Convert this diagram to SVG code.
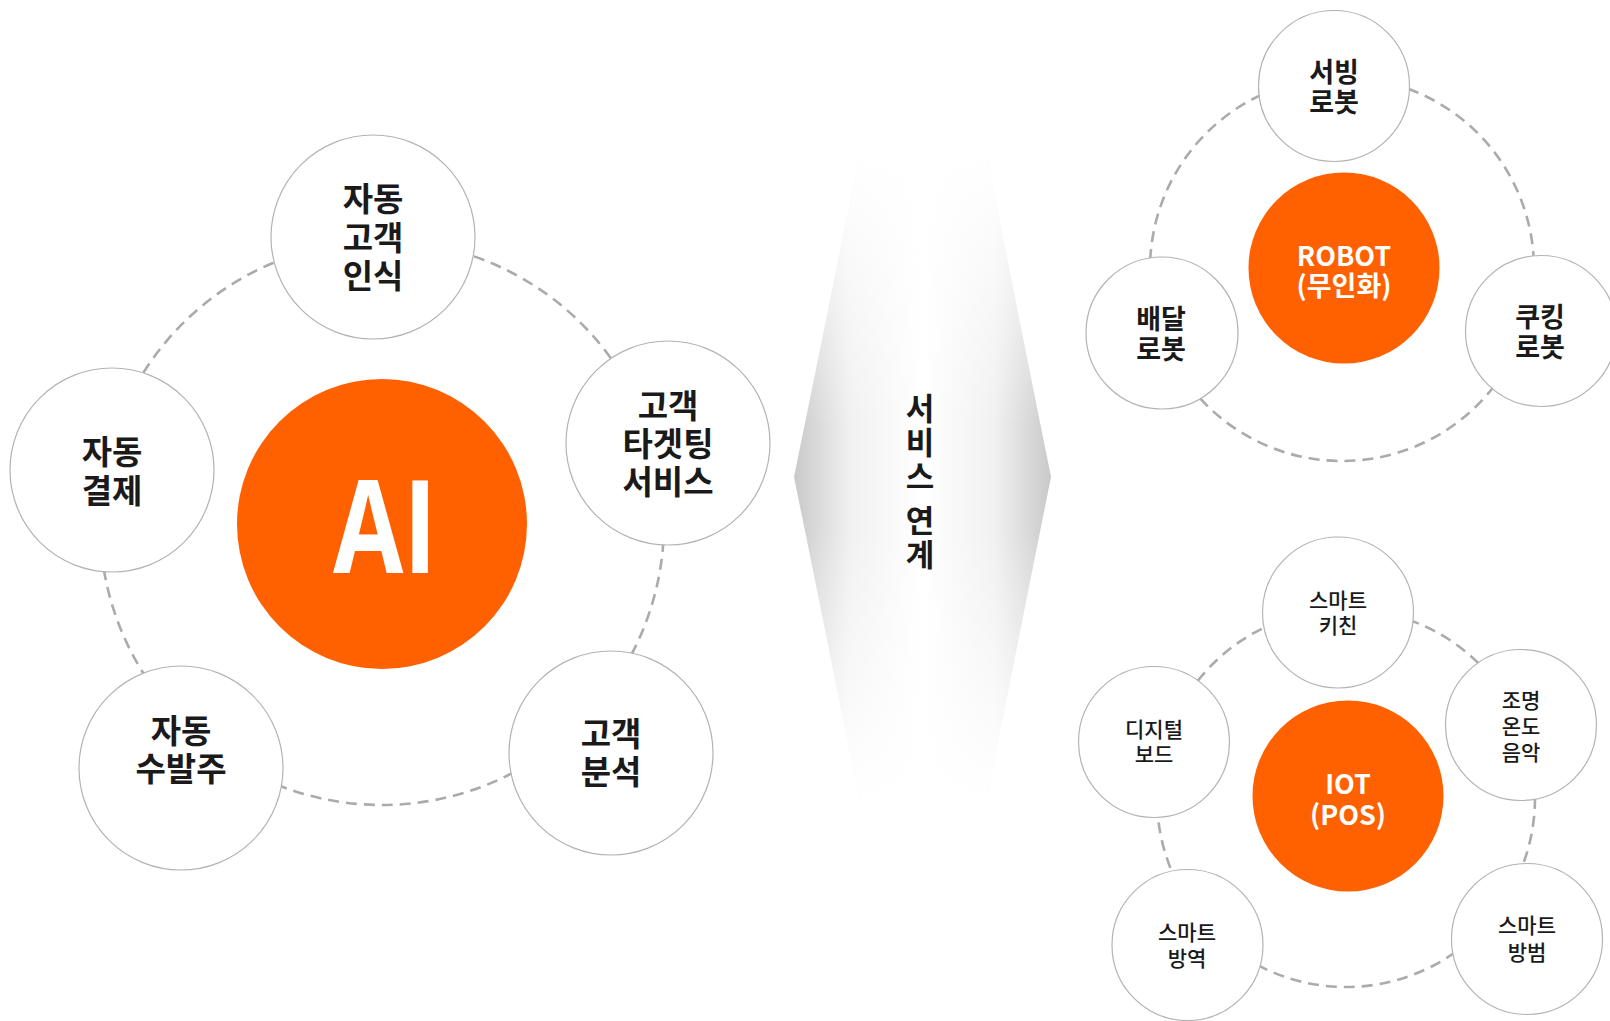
<svg xmlns="http://www.w3.org/2000/svg" width="1610" height="1021" viewBox="0 0 1610 1021">
<defs>
<linearGradient id="hg" x1="0" y1="0" x2="1" y2="0">
<stop offset="0" stop-color="#c9c9c9"/>
<stop offset="0.22" stop-color="#f1f1f1"/>
<stop offset="0.5" stop-color="#ffffff"/>
<stop offset="0.78" stop-color="#f1f1f1"/>
<stop offset="1" stop-color="#c9c9c9"/>
</linearGradient>
<linearGradient id="vg" x1="0" y1="0" x2="0" y2="1">
<stop offset="0" stop-color="#ffffff" stop-opacity="1"/>
<stop offset="0.42" stop-color="#ffffff" stop-opacity="0"/>
<stop offset="0.58" stop-color="#ffffff" stop-opacity="0"/>
<stop offset="1" stop-color="#ffffff" stop-opacity="1"/>
</linearGradient>
<style>
.node{fill:#ffffff;stroke:#b3b3b3;stroke-width:1.2}
.hub{fill:#ff6000}
.dash{fill:none;stroke:#ababab;stroke-width:2.6;stroke-dasharray:11 7}
.t{font-family:"Noto Sans CJK KR","Noto Sans",sans-serif;font-weight:700;fill:#1a1a1a;text-anchor:middle;dominant-baseline:central}
.big{font-size:33px}
.mid{font-size:27px}
.sm{font-size:21px;font-weight:500}
.w{fill:#ffffff}
</style>
</defs>
<rect width="1610" height="1021" fill="#ffffff"/>

<g id="connectors">
<circle class="dash" cx="382" cy="523" r="282"/>
<circle class="dash" cx="1342" cy="269" r="192"/>
<circle class="dash" cx="1346" cy="798" r="189"/>
</g>

<g id="ai-hub">
<circle class="hub" cx="382" cy="524" r="145"/>
<text x="333" y="573" font-family="'Open Sans','Liberation Sans',sans-serif" font-weight="700" font-size="129" fill="#ffffff" textLength="104" lengthAdjust="spacingAndGlyphs">AI</text>
</g>
<g id="n-auto-recognition">
<circle class="node" cx="373" cy="237" r="102"/>
<text class="t big"><tspan x="373" y="197">자동</tspan><tspan x="373" y="236">고객</tspan><tspan x="373" y="274">인식</tspan></text>
</g>
<g id="n-targeting">
<circle class="node" cx="668" cy="443" r="102"/>
<text class="t big"><tspan x="668" y="404">고객</tspan><tspan x="668" y="442">타겟팅</tspan><tspan x="668" y="480">서비스</tspan></text>
</g>
<g id="n-analysis">
<circle class="node" cx="611" cy="753" r="102"/>
<text class="t big"><tspan x="611" y="732">고객</tspan><tspan x="611" y="770">분석</tspan></text>
</g>
<g id="n-ordering">
<circle class="node" cx="181" cy="768" r="102"/>
<text class="t big"><tspan x="181" y="729">자동</tspan><tspan x="181" y="767">수발주</tspan></text>
</g>
<g id="n-payment">
<circle class="node" cx="112" cy="470" r="102"/>
<text class="t big"><tspan x="112" y="450">자동</tspan><tspan x="112" y="489">결제</tspan></text>
</g>

<g id="link-shape">
<polygon points="860,154 986,154 1051,477 986,801 860,801 794,477" fill="url(#hg)"/>
<polygon points="860,154 986,154 1051,477 986,801 860,801 794,477" fill="url(#vg)"/>
<text x="920" y="393" writing-mode="vertical-rl" font-family="'Noto Sans CJK KR',sans-serif" font-weight="700" font-size="31" fill="#1a1a1a" letter-spacing="3">서비스 연계</text>
</g>

<g id="robot-hub">
<circle class="hub" cx="1344" cy="268" r="95.5"/>
<text class="t mid w"><tspan x="1344" y="254">ROBOT</tspan><tspan x="1344" y="284">(무인화)</tspan></text>
</g>
<g id="n-serving">
<circle class="node" cx="1334" cy="86" r="75.5"/>
<text class="t mid"><tspan x="1334" y="70">서빙</tspan><tspan x="1334" y="100">로봇</tspan></text>
</g>
<g id="n-delivery">
<circle class="node" cx="1162" cy="333" r="76"/>
<text class="t mid"><tspan x="1161" y="317">배달</tspan><tspan x="1161" y="347">로봇</tspan></text>
</g>
<g id="n-cooking">
<circle class="node" cx="1541" cy="331" r="75.5"/>
<text class="t mid"><tspan x="1540" y="315">쿠킹</tspan><tspan x="1540" y="345">로봇</tspan></text>
</g>

<g id="iot-hub">
<circle class="hub" cx="1348" cy="796" r="95.5"/>
<text class="t mid w"><tspan x="1348" y="782">IOT</tspan><tspan x="1348" y="813">(POS)</tspan></text>
</g>
<g id="n-kitchen">
<circle class="node" cx="1338" cy="612.5" r="75.5"/>
<text class="t sm"><tspan x="1338" y="599">스마트</tspan><tspan x="1338" y="624">키친</tspan></text>
</g>
<g id="n-lighting">
<circle class="node" cx="1521" cy="725" r="75.5"/>
<text class="t sm"><tspan x="1521" y="699">조명</tspan><tspan x="1521" y="725">온도</tspan><tspan x="1521" y="751">음악</tspan></text>
</g>
<g id="n-board">
<circle class="node" cx="1154" cy="742" r="75.5"/>
<text class="t sm"><tspan x="1154" y="728">디지털</tspan><tspan x="1154" y="753">보드</tspan></text>
</g>
<g id="n-disinfect">
<circle class="node" cx="1187.5" cy="945" r="75.5"/>
<text class="t sm"><tspan x="1187" y="931">스마트</tspan><tspan x="1187" y="957">방역</tspan></text>
</g>
<g id="n-security">
<circle class="node" cx="1527" cy="939" r="75.5"/>
<text class="t sm"><tspan x="1527" y="924">스마트</tspan><tspan x="1527" y="951">방범</tspan></text>
</g>
</svg>
